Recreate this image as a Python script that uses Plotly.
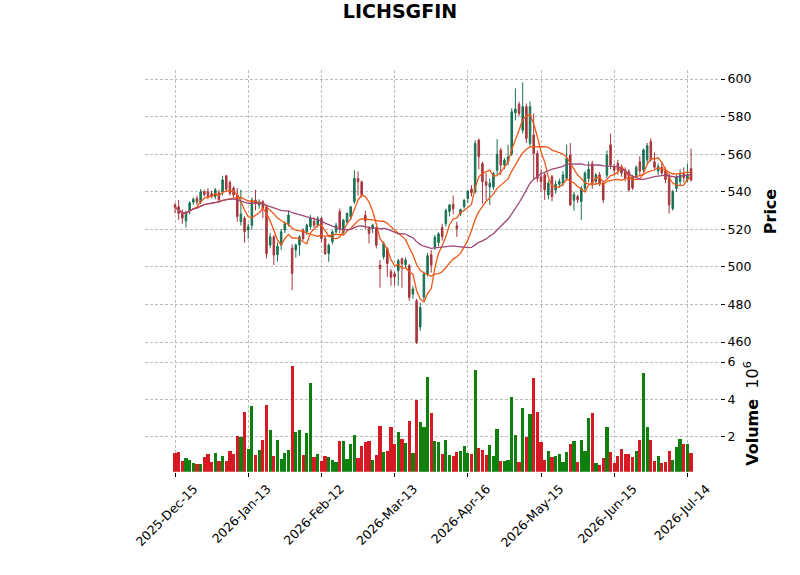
import plotly.graph_objects as go
import pandas as pd

# ---------------- data ----------------
opens = [533, 532, 528.5, 524.5, 530, 534.5, 536.5, 534.5, 540, 540,
         539, 537.5, 539.5, 540, 548.5, 545, 542, 538.3, 524.1, 525.9,
         519.6, 522.2, 535.6, 532.9, 534.7, 532, 511.6, 516, 506.5, 511.6,
         519.6, 523.1, 510, 509, 511.6, 519.6, 518.7, 521.4, 524.4, 522.2,
         525.8, 515.1, 507.1, 513.4, 518.7, 529.5, 518.7, 524, 526.7, 534.7,
         547.1, 545.3, 527.5, 520.5, 520.5, 520.5, 501, 505.4, 509.8, 497.5,
         496.3, 498, 504.3, 501.2, 500.7, 485.6, 482, 468, 484, 496.3,
         506.5, 510.5, 513, 521, 523, 529.5, 533.4, 522, 528.4, 532,
         536.4, 541.5, 540, 567.5, 555, 545.3, 542.5, 542.6, 551.5, 562.2,
         554.2, 556, 560.4, 582, 586.5, 572.8, 585.3, 565.7, 570.2, 560.4,
         548, 549, 538.3, 548, 541, 544, 544.5, 547.2, 559.6, 535.5,
         537.5, 534.8, 541.9, 547, 555, 545.5, 549, 544.5, 548.8, 565,
         553.3, 555.2, 553.4, 551.7, 550.8, 548, 548.5, 556, 551.7, 557,
         566.7, 556, 551, 553, 551, 548.5, 531, 541.8, 545.5, 549.5,
         546.5, 552.4]
highs = [534, 535.7, 530.5, 530, 535, 537, 538, 541.5, 541, 542,
         540.5, 542, 541, 548.5, 549, 546, 543, 542, 541, 527,
         523, 537, 541, 536, 535.6, 533, 518, 517, 513, 520,
         524.5, 530, 512, 512.5, 517, 520.5, 523, 527.6, 526.5, 527,
         526.7, 516, 512.5, 519.5, 523.5, 531.1, 525.5, 529, 532.5, 551.5,
         550.8, 546, 530, 521.5, 523, 521.5, 503.6, 513.5, 510.5, 499,
         497.5, 504.3, 505, 505, 501.5, 490, 483, 481, 497.5, 507.5,
         509, 517, 518.5, 523, 531, 533.5, 538, 524, 531, 536,
         541, 543.5, 567.5, 568.4, 556, 550, 547, 550.5, 568, 563.5,
         558, 565, 584.4, 595, 588, 598.2, 587, 588, 581.7, 562,
         552, 550, 546, 549, 546, 547, 551, 565, 565.9, 540,
         538.5, 543, 551, 556, 556.5, 550, 550.5, 546, 562, 571,
         555, 557, 554.5, 553, 552, 549, 554, 559, 563, 566,
         568.5, 561, 555, 556, 553, 550, 541, 549, 552, 553,
         555, 563]
lows = [528.5, 525, 523, 521, 528, 533, 533, 533.5, 537.5, 536,
        536.5, 536, 534.5, 538, 540, 538, 537, 524, 522, 513,
        515, 520, 530, 531, 526, 504.5, 510, 501, 503, 509,
        518, 521.5, 487.6, 505, 506, 514, 517, 520, 521, 521,
        513, 506.3, 502.7, 512, 517.5, 518, 517, 523, 525, 533.5,
        538, 537, 520, 512.5, 518, 509.8, 489, 504, 494.7, 490,
        490, 490, 489, 499, 482, 483, 459, 466, 482, 495,
        497, 509, 511, 514, 521.5, 527, 528, 516, 527, 531,
        534, 537.5, 539, 552, 533.7, 535.5, 533, 541, 549, 548.8,
        552, 554, 559, 578, 580, 571, 566, 564, 546.2, 545,
        540, 535.7, 536, 535, 539, 542, 543, 546, 532.5, 530,
        534, 525, 540, 545, 541.5, 543.5, 543, 534, 547, 552,
        549, 549, 548, 545.5, 540, 541, 547, 549, 550, 555,
        556, 552, 549, 549, 544.5, 528.5, 530, 540, 543, 545,
        545, 545.5]
closes = [531.8, 528.5, 526, 529, 534, 536, 534.5, 540, 538.5, 537.5,
          537.5, 541, 535.7, 546.3, 541.4, 539.2, 538.3, 526.8, 528.2, 518.8,
          521.4, 535.6, 533.8, 534.7, 531.1, 507, 516, 506.3, 511, 518.7,
          523.1, 527.6, 496.5, 511.6, 516, 515.1, 522.2, 525.8, 522.2, 525.8,
          515.1, 507.1, 511.6, 518.7, 522.2, 520, 524.9, 528.5, 532, 547.1,
          545.3, 538.2, 524.5, 517.8, 522.2, 511.6, 499, 512.5, 501.8, 494.5,
          494.8, 503.4, 501.6, 503.7, 483.8, 488.3, 459.9, 478.5, 496.3, 506,
          501, 515.8, 517.6, 516, 530, 533, 531, 520.4, 530.5, 535.5,
          540.3, 539.5, 565.7, 558.6, 545.3, 543.5, 544.5, 549.7, 560, 554.2,
          556.8, 558.5, 582.6, 584, 581.7, 585.3, 568.4, 585.3, 560.4, 547.1,
          545.5, 541, 544.5, 537.4, 544, 545.5, 549, 557.9, 533, 538.5,
          535.8, 541.9, 549.9, 552, 543.7, 549, 544.5, 535.7, 559.5, 554.3,
          551.5, 551.7, 549.9, 547.2, 541, 542, 553, 551, 562.3, 564.5,
          557, 553, 553.5, 550, 546.5, 533, 540, 548, 549, 547.5,
          549, 546.2]
volume_m = [1.14, 1.19, 0.70, 0.86, 0.76, 0.59, 0.54, 0.54, 0.92, 1.08,
            0.65, 1.14, 0.70, 0.97, 0.70, 1.24, 1.08, 2.05, 2.00, 3.30,
            1.35, 3.62, 1.03, 1.30, 1.84, 3.68, 2.38, 0.97, 1.84, 0.81,
            1.14, 1.30, 5.78, 2.27, 2.38, 1.03, 2.22, 4.86, 0.92, 1.08,
            0.70, 0.97, 0.92, 0.76, 0.65, 1.78, 1.78, 0.81, 1.62, 2.11,
            0.86, 1.51, 1.73, 1.78, 0.76, 1.03, 2.59, 1.19, 1.24, 2.54,
            1.62, 2.27, 1.89, 1.68, 2.81, 1.14, 3.95, 2.76, 2.49, 5.19,
            3.24, 1.78, 1.73, 1.05, 1.84, 1.03, 0.97, 1.19, 1.24, 1.51,
            1.14, 1.08, 5.57, 1.41, 1.30, 1.03, 1.57, 0.97, 2.43, 0.70,
            0.70, 0.76, 4.11, 2.11, 0.65, 3.51, 2.00, 3.19, 5.14, 3.30,
            1.73, 0.76, 1.24, 0.92, 0.97, 1.08, 0.65, 1.19, 1.62, 1.78,
            0.65, 1.84, 1.24, 2.97, 3.24, 0.59, 0.49, 0.86, 2.54, 1.19,
            0.59, 0.97, 1.35, 1.08, 1.08, 0.92, 1.24, 1.84, 5.41, 2.54,
            1.84, 0.70, 0.97, 0.59, 0.65, 1.24, 0.76, 1.46, 1.89, 1.62,
            1.62, 1.14]
tick_index = [0, 20, 40, 60, 80, 100, 120, 140]
tick_labels = ["2025-Dec-15", "2026-Jan-13", "2026-Feb-12", "2026-Mar-13",
               "2026-Apr-16", "2026-May-15", "2026-Jun-15", "2026-Jul-14"]
ma_periods = [5, 15, 30]
title_text = "LICHSGFIN"

# ---------------- styling ----------------
UP, DN = "#006340", "#a02128"
VUP, VDN = "#007a00", "#d50d18"
MA_COLORS = ["#ef5714", "#ef5714", "#9f4878"]
GRID = "#bdbdbd"
DASH = "3px,2px"
FONT = "DejaVu Sans"
W, H = 800, 575

x = list(range(len(closes)))
close_s = pd.Series(closes)
vol_colors = [VUP if c >= o else VDN for o, c in zip(opens, closes)]

fig = go.Figure()
fig.add_trace(go.Candlestick(
    x=x, open=opens, high=highs, low=lows, close=closes,
    increasing=dict(line=dict(color=UP, width=1), fillcolor=UP),
    decreasing=dict(line=dict(color=DN, width=1), fillcolor=DN),
    whiskerwidth=0, opacity=0.9, xaxis="x", yaxis="y",
    showlegend=False, hoverinfo="skip"))

for p, col in zip(ma_periods, MA_COLORS):
    ma = close_s.rolling(p, min_periods=1).mean()
    fig.add_trace(go.Scatter(x=x, y=ma, mode="lines", line=dict(color=col, width=1.3),
                             xaxis="x", yaxis="y", showlegend=False, hoverinfo="skip"))

fig.add_trace(go.Bar(x=x, y=volume_m, marker=dict(color=vol_colors, line=dict(width=0)),
                     width=0.88, opacity=0.95, xaxis="x", yaxis="y2",
                     showlegend=False, hoverinfo="skip"))

def px_to_paper(y_px):
    return (H - y_px) / H

vmin = 0.3 * min(volume_m)
vmax = 1.1 * max(volume_m)

axis_font = dict(family=FONT, size=12.5, color="#000000")
fig.update_layout(
    width=W, height=H,
    margin=dict(l=145, r=80, t=0, b=0),
    paper_bgcolor="white", plot_bgcolor="white",
    font=dict(family=FONT, size=12.5, color="#000000"),
    boxgap=0.4,
    bargap=0,
    title=dict(text="<b>" + title_text + "</b>", x=0.5, xref="container",
               y=1 - 11 / H, yref="container", yanchor="middle", xanchor="center",
               font=dict(family=FONT, size=19, color="#000000")),
    xaxis=dict(
        domain=[0, 1], anchor="y2", range=[-8.2, 148.9],
        tickmode="array", tickvals=tick_index, ticktext=tick_labels, tickangle=-45,
        ticklabelshift=19,
        ticks="outside", ticklen=4, tickcolor="#000000", tickfont=axis_font,
        showgrid=True, gridcolor=GRID, griddash=DASH, gridwidth=0.8,
        showline=False, zeroline=False, automargin=False,
        rangeslider=dict(visible=False)),
    yaxis=dict(
        domain=[px_to_paper(353), px_to_paper(70)], anchor="x", side="right",
        range=[454.2, 604.8], tickmode="array", tickvals=list(range(460, 601, 20)),
        ticks="outside", ticklen=4, tickcolor="#000000", tickfont=axis_font,
        showgrid=True, gridcolor=GRID, griddash=DASH, gridwidth=0.8,
        showline=False, zeroline=False, automargin=False,
        title=dict(text="<b>Price</b>", font=dict(family=FONT, size=16), standoff=14)),
    yaxis2=dict(
        domain=[px_to_paper(471.7), px_to_paper(355.3)], anchor="x", side="right",
        range=[vmin, vmax], tickmode="array", tickvals=[2, 4, 6],
        ticks="outside", ticklen=4, tickcolor="#000000", tickfont=axis_font,
        showgrid=True, gridcolor=GRID, griddash=DASH, gridwidth=0.8,
        showline=False, zeroline=False, automargin=False,
        title=dict(text="<b>Volume</b>  10<sup>6</sup>", font=dict(family=FONT, size=16),
                   standoff=12)),
)

fig.write_html("out.html")
